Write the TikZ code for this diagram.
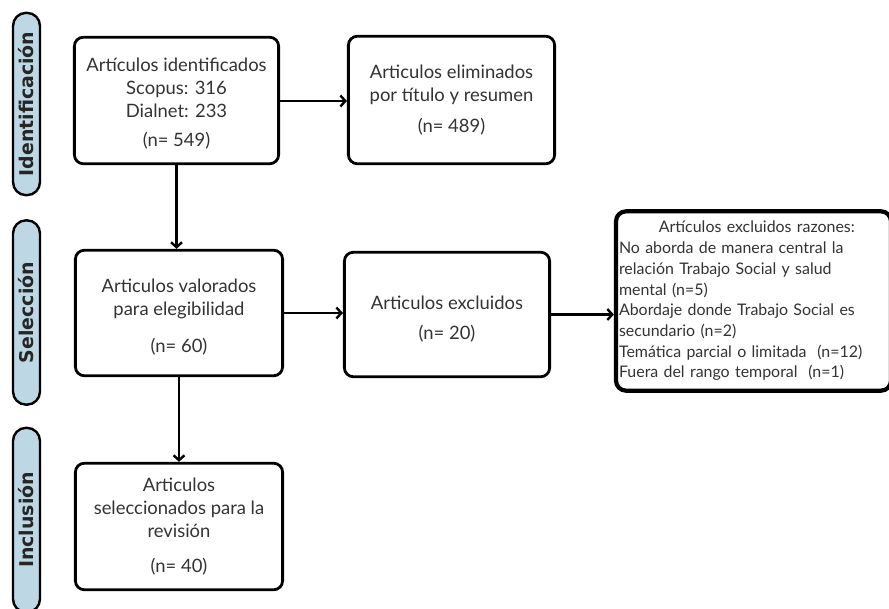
\documentclass[tikz,border=0pt]{standalone}
\usepackage{fontspec}
\setmainfont{Lato}
\newfontfamily\phasefont{DejaVu Sans}
\usetikzlibrary{arrows.meta}
\definecolor{pill}{HTML}{BDD7E5}
\definecolor{txt}{HTML}{333333}
\tikzset{
  box/.style={draw=black, line width=2.8pt, rounded corners=9pt, fill=white, align=center,
    text=txt, font=\fontsize{18.5}{23}\selectfont, inner sep=0pt},
  bigbox/.style={draw=black, line width=4.2pt, rounded corners=10pt, fill=white, align=left,
    text=txt, font=\fontsize{16}{20.8}\selectfont, inner xsep=3pt, inner ysep=0pt},
  phase/.style={draw=black, line width=2.4pt, rounded corners=13pt, fill=pill,
    minimum width=27pt, inner sep=0pt},
  phasetext/.style={rotate=90, font=\phasefont\fontsize{19}{19}\bfseries\selectfont, text=black!85},
  arr/.style={line width=2.4pt, -{Straight Barb[length=5pt,width=11pt,line width=2.4pt]}},
}
\begin{document}
\begin{tikzpicture}[x=1bp,y=-1bp]
\useasboundingbox (0,0) rectangle (889,609);
% phase pills
\node[phase, minimum height=183pt] (p1) at (26.5,104) {};
\node[phasetext] (p1t) at (p1) {Identificación};
\node[phase, minimum height=185pt] (p2) at (26.5,312.5) {};
\node[phasetext] (p2t) at (p2) {Selección};
\node[phase, minimum height=185pt] (p3) at (26.5,520) {};
\node[phasetext] (p3t) at (p3) {Inclusión};
% boxes
\node[box, minimum width=205pt, minimum height=127pt] (b1) at (176.5,100.5)
  {\rule{0pt}{20pt}Artículos identificados\\Scopus: 316\\Dialnet: 233\\[7pt](n= 549)};
\node[box, minimum width=207pt, minimum height=128pt] (b2) at (451.5,100)
  {Articulos eliminados\\por título y resumen\\[8pt](n= 489)};
\node[box, minimum width=208pt, minimum height=126pt] (b3) at (179,313)
  {\rule{0pt}{21pt}Articulos valorados\\para elegibilidad\\[14pt](n= 60)};
\node[box, minimum width=206pt, minimum height=125pt] (b4) at (447,314.5)
  {\rule{0pt}{22pt}Articulos excluidos\\[7pt](n= 20)};
\node[bigbox, text width=270pt, minimum height=180pt] (b5) at (753.5,301)
  {\hspace*{40pt}Artículos excluidos razones:\\
   No aborda de manera central la\\
   relación Trabajo Social y salud\\
   mental (n=5)\\
   Abordaje donde Trabajo Social es\\
   secundario (n=2)\\
   Temática parcial o limitada\ \ (n=12)\\
   Fuera del rango temporal\ \ (n=1)};
\node[box, minimum width=208pt, minimum height=127pt] (b6) at (179,526.5)
  {Articulos\\seleccionados para la\\revisión\\[12pt](n= 40)};
% arrows
\draw[arr] (b1.east) ++(0,0.5) coordinate (a1) -- (a1 -| b2.west);
\draw[arr] (b1.south) -- (b1.south |- b3.north);
\draw[arr] (b3.east) -- (b3.east -| b4.west);
\draw[arr] (b4.east) -- (b4.east -| b5.west);
\draw[arr] (b3.south) -- (b3.south |- b6.north);
\end{tikzpicture}
\end{document}
